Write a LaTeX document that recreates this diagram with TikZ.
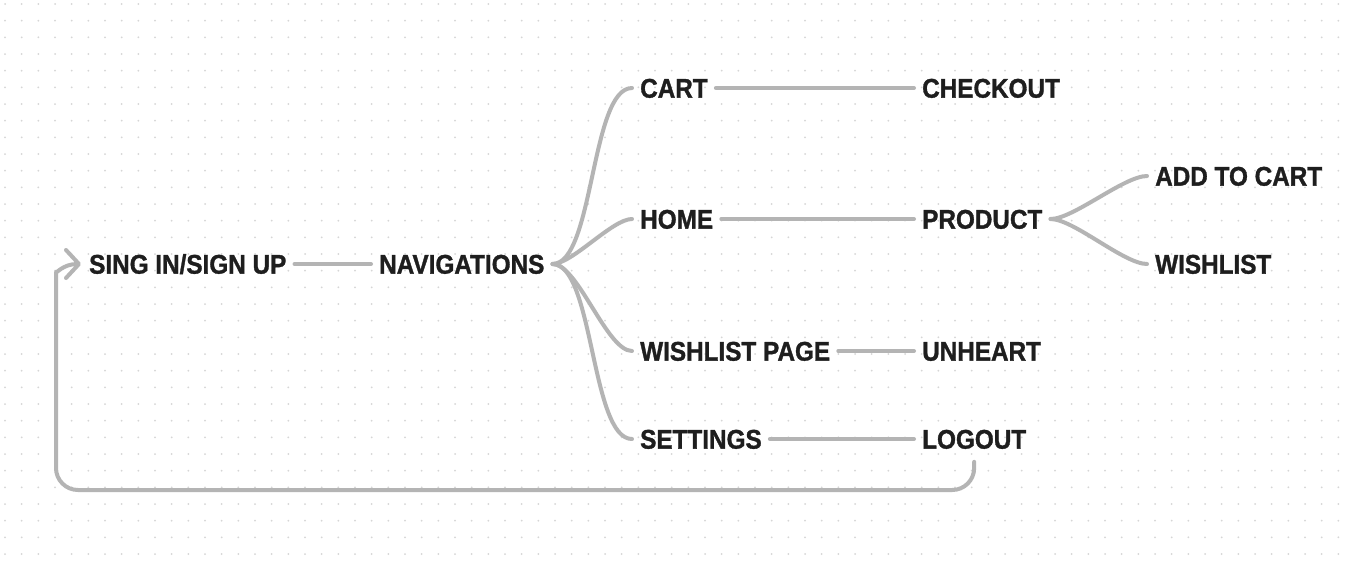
\documentclass[tikz,border=0pt]{standalone}
\usepackage{fontspec}
\setmainfont[FakeStretch=0.9, BoldFeatures={FakeBold=1.2}]{Liberation Sans}
\usepackage{tikz}
\usetikzlibrary{arrows.meta}
\definecolor{ink}{HTML}{1E1E1E}
\definecolor{wire}{HTML}{B4B4B4}
\definecolor{dotgray}{HTML}{D6D6D6}
\tikzset{
  item/.style={font=\fontsize{27}{32}\selectfont\bfseries, text=ink, anchor=west,
    inner xsep=8pt, inner ysep=0pt, text height=19.3pt, text depth=0pt},
  link/.style={draw=wire, line width=4pt, line cap=round, line join=round},
  branch/.style={link, out=0, in=180, looseness=0.55},
}
\begin{document}
\begin{tikzpicture}[x=1pt, y=-1pt]
			\useasboundingbox[fill=white] (0,0) rectangle (1346,570);
			% dotted canvas
			\foreach \i in {0,...,80}
				\foreach \j in {0,...,33}
					\fill[dotgray] (5+16.667*\i, 4+16.667*\j) circle (1pt);
			\node[item] (signin) at (81,264) {SING IN/SIGN UP};
			\node[item] (nav) at (371,264) {NAVIGATIONS};
			\node[item] (cart) at (632,88) {CART};
			\node[item] (checkout) at (914,88) {CHECKOUT};
			\node[item] (home) at (632,219) {HOME};
			\node[item] (product) at (914,219) {PRODUCT};
			\node[item] (addcart) at (1147,176) {ADD TO CART};
			\node[item] (wishlist) at (1147,264) {WISHLIST};
			\node[item] (wishpage) at (632,351) {WISHLIST PAGE};
			\node[item] (unheart) at (914,351) {UNHEART};
			\node[item] (settings) at (632,439) {SETTINGS};
			\node[item] (logout) at (914,439) {LOGOUT};
			\coordinate (floor) at (0,490);
			\draw[link] (signin.east) -- (nav.west);
			\draw[branch] (nav.east) to (cart.west);
			\draw[branch] (nav.east) to (home.west);
			\draw[branch] (nav.east) to (wishpage.west);
			\draw[branch] (nav.east) to (settings.west);
			\draw[link] (cart.east) -- (checkout.west);
			\draw[link] (home.east) -- (product.west);
			\draw[link] (wishpage.east) -- (unheart.west);
			\draw[link] (settings.east) -- (logout.west);
			\draw[branch] (product.east) to (addcart.west);
			\draw[branch] (product.east) to (wishlist.west);
			% back to sign in
			\draw[link, rounded corners=22pt, shorten <=13pt,
				-{Straight Barb[length=13pt, width=28pt, line cap=round, line join=round]}]
				(logout.south) -- (logout.south |- floor) -- (56,490) -- (56,294)
				.. controls (56,274) and (63,264) .. (signin.west);
		\end{tikzpicture}
\end{document}
